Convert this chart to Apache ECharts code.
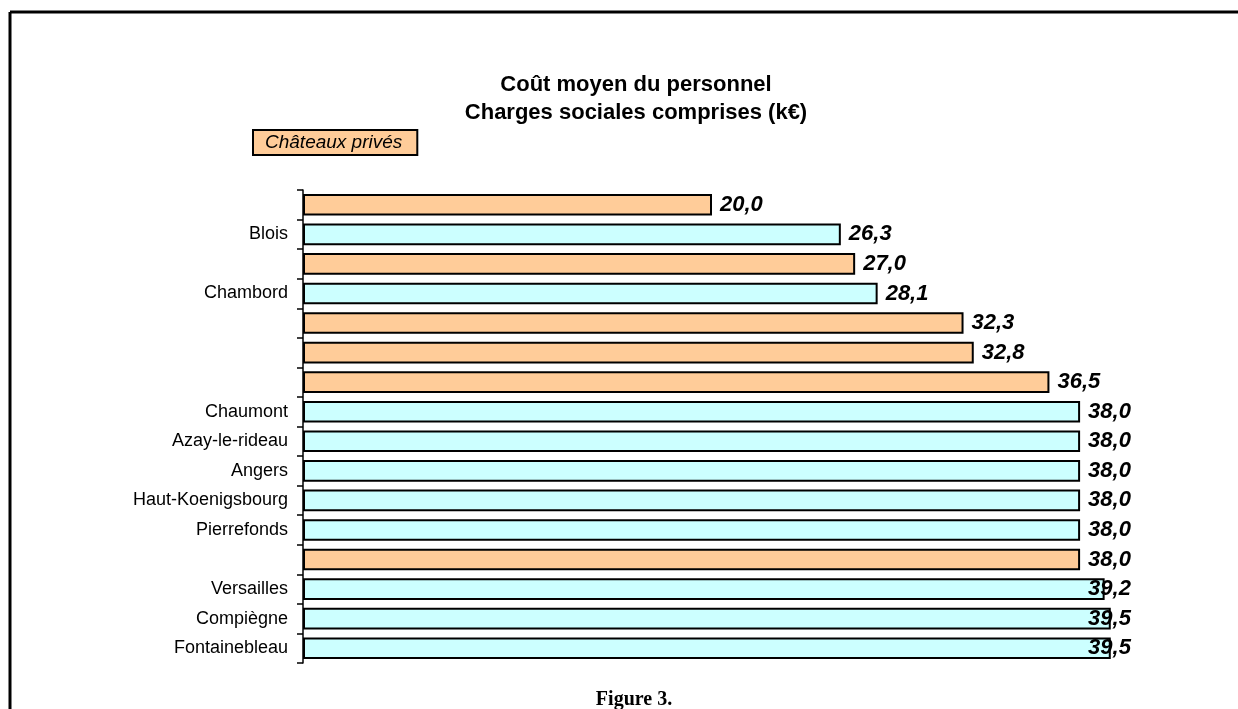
<!DOCTYPE html>
<html>
<head>
<meta charset="utf-8">
<script src="https://cdn.jsdelivr.net/npm/echarts@6/dist/echarts.min.js"></script>
<style>
  html, body { margin: 0; padding: 0; background: #fff; }
  #chart { width: 1238px; height: 709px; }
</style>
</head>
<body>
<div id="chart"></div>
<script>
// rows from top to bottom; '' = private château (no name shown)
var categories = ['', 'Blois', '', 'Chambord', '', '', '', 'Chaumont', 'Azay-le-rideau',
  'Angers', 'Haut-Koenigsbourg', 'Pierrefonds', '', 'Versailles', 'Compiègne', 'Fontainebleau'];
var values = [20.0, 26.3, 27.0, 28.1, 32.3, 32.8, 36.5, 38.0, 38.0, 38.0, 38.0, 38.0, 38.0, 39.2, 39.5, 39.5];
var isPrivate = [true, false, true, false, true, true, true, false, false, false, false, false, true, false, false, false];

var labelCap = 38;     // Excel clamps labels at the plot edge
var pxPerUnit = 818 / 40;

function fmt(v) { return v.toFixed(1).replace('.', ','); }

function item(v) {
  var d = { value: v };
  if (v > labelCap) d.label = { offset: [-(v - labelCap) * pxPerUnit, 0] };
  return d;
}

var privData = values.map(function (v, i) { return isPrivate[i] ? item(v) : '-'; });
var publicData = values.map(function (v, i) { return isPrivate[i] ? '-' : item(v); });

var barLabel = {
  show: true,
  position: 'right',
  distance: 8,
  formatter: function (p) { return fmt(p.value); },
  fontFamily: 'Liberation Sans, Arial, sans-serif',
  fontSize: 22,
  fontWeight: 'bold',
  fontStyle: 'italic',
  color: '#000'
};

var chart = echarts.init(document.getElementById('chart'), null, { renderer: 'canvas' });
chart.setOption({
  animation: false,
  backgroundColor: '#fff',
  title: [{
    text: 'Coût moyen du personnel\nCharges sociales comprises (k€)',
    left: 631,
    textAlign: 'center',
    top: 66,
    textStyle: {
      fontFamily: 'Liberation Sans, Arial, sans-serif',
      fontSize: 22,
      fontWeight: 'bold',
      color: '#000',
      lineHeight: 28
    }
  }, {
    text: 'Figure 3.',
    left: 629,
    textAlign: 'center',
    top: 685,
    textStyle: {
      fontFamily: 'Liberation Serif, Times New Roman, serif',
      fontSize: 20,
      fontWeight: 'bold',
      color: '#000'
    }
  }],
  legend: {
    data: ['Châteaux privés'],
    left: 253,
    top: 130,
    icon: 'none',
    itemWidth: 0,
    itemHeight: 0,
    itemGap: 0,
    padding: [3, 15, 3, 7],
    backgroundColor: '#FFCC99',
    borderColor: '#000',
    borderWidth: 2,
    selectedMode: false,
    textStyle: {
      fontFamily: 'Liberation Sans, Arial, sans-serif',
      fontSize: 19,
      fontStyle: 'italic',
      color: '#000'
    }
  },
  graphic: [
    { type: 'line', shape: { x1: 10, y1: 12, x2: 1238, y2: 12 }, style: { stroke: '#000', lineWidth: 3 } },
    { type: 'line', shape: { x1: 10, y1: 12, x2: 10, y2: 709 }, style: { stroke: '#000', lineWidth: 3 } }
  ],
  grid: { left: 303, right: 117, top: 190, bottom: 46 },
  xAxis: {
    type: 'value',
    min: 0,
    max: 40,
    show: false
  },
  yAxis: {
    type: 'category',
    inverse: true,
    data: categories,
    axisLine: { show: true, lineStyle: { color: '#000', width: 1.5 } },
    axisTick: { show: true, length: 6, lineStyle: { color: '#000', width: 1.5 } },
    axisLabel: {
      margin: 15,
      fontFamily: 'Liberation Sans, Arial, sans-serif',
      fontSize: 18,
      color: '#000'
    },
    splitLine: { show: false }
  },
  series: [{
    name: 'Châteaux privés',
    type: 'bar',
    data: privData,
    barGap: '-100%',
    barCategoryGap: '27%',
    itemStyle: { color: '#FFCC99', borderColor: '#000', borderWidth: 2 },
    label: barLabel
  }, {
    name: 'Châteaux publics',
    type: 'bar',
    data: publicData,
    barGap: '-100%',
    barCategoryGap: '27%',
    itemStyle: { color: '#CCFFFF', borderColor: '#000', borderWidth: 2 },
    label: barLabel
  }]
});
</script>
</body>
</html>
